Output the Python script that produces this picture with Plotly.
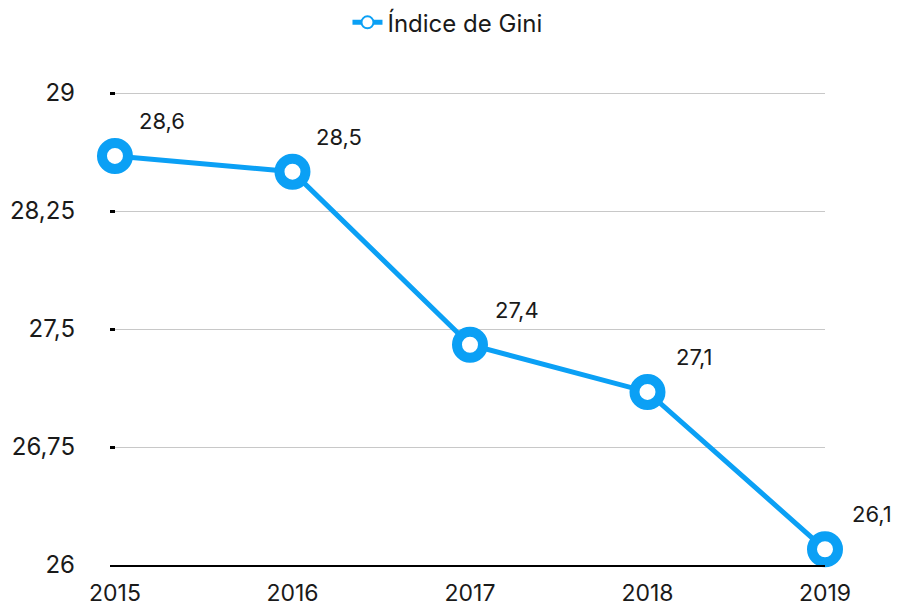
import plotly.graph_objects as go

years = [2015, 2016, 2017, 2018, 2019]
gini = [28.6, 28.5, 27.4, 27.1, 26.1]
y_ticks = [26, 26.75, 27.5, 28.25, 29]
y_tick_labels = ["26", "26,75", "27,5", "28,25", "29"]
series_name = "Índice de Gini"

blue = "#0BA0F5"
font_family = "Inter, Liberation Sans, Arial, sans-serif"

fig = go.Figure()
fig.add_trace(go.Scatter(
    x=years,
    y=gini,
    mode="lines+markers",
    name=series_name,
    line=dict(color=blue, width=5),
    marker=dict(size=26, color="white", line=dict(color=blue, width=10)),
    cliponaxis=False,
))

# value labels offset up-right of each point
for x, v in zip(years, gini):
    fig.add_annotation(
        x=x, y=v, text=f"{v}".replace(".", ","),
        showarrow=False, xshift=47, yshift=35,
        font=dict(size=22, color="#1a1a1a", family=font_family),
    )

fig.update_xaxes(
    range=[2014.972, 2019],
    tickvals=years,
    showgrid=False,
    showline=True, linecolor="black", linewidth=2,
    ticks="", zeroline=False,
    ticklabelstandoff=6,
    tickfont=dict(size=23, color="#1a1a1a", family=font_family),
)
# range top nudged past 29 so the top gridline and tick are not dropped at the edge
fig.update_yaxes(
    range=[26, 29.0127],
    tickvals=y_ticks,
    ticktext=y_tick_labels,
    showgrid=True, gridcolor="#c8c8c8", gridwidth=1,
    zeroline=False,
    ticks="inside", ticklen=5, tickwidth=3, tickcolor="black",
    ticklabelstandoff=34,
    tickfont=dict(size=24, color="#1a1a1a", family=font_family),
)
# page body adds an 8px margin, so the figure is sized and placed to compensate
fig.update_layout(
    width=891, height=600,
    margin=dict(l=102, r=74, t=83, b=43, autoexpand=False),
    plot_bgcolor="white", paper_bgcolor="white",
    font=dict(family=font_family, color="#1a1a1a"),
    showlegend=True,
    legend=dict(
        orientation="h", x=0.472, xanchor="center", y=1.144, yanchor="middle",
        font=dict(size=24, color="#1a1a1a", family=font_family),
        itemsizing="constant",
    ),
)

fig.write_html("out.html")
